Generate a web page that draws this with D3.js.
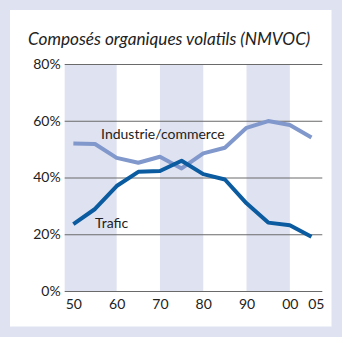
<!DOCTYPE html>
<html><head><meta charset="utf-8">
<script src="https://cdn.jsdelivr.net/npm/d3@7"></script>
<style>
html,body{margin:0;padding:0;background:#dfe2f0;}
svg{display:block;}
text{font-family:"Lato","DejaVu Sans",sans-serif;fill:#222;}
</style></head>
<body>
<script>
const years = [1950,1955,1960,1965,1970,1975,1980,1985,1990,1995,2000,2005];
const industrie = [52.0,51.8,46.9,45.2,47.3,43.2,48.5,50.5,57.5,59.9,58.5,54.1];
const trafic = [23.6,28.9,37.0,42.0,42.3,45.9,41.2,39.3,30.9,24.1,23.2,19.1];
const yTicks = [0,20,40,60,80];
const xTickLabels = [{y:1950,t:"50"},{y:1960,t:"60"},{y:1970,t:"70"},{y:1980,t:"80"},{y:1990,t:"90"},{y:2000,t:"00"},{y:2006,t:"05"}];
const bands = [[1948,1960],[1970,1980],[1990,2000]];
const title = "Composés organiques volatils (NMVOC)";

const W=342,H=337;
const svg=d3.select("body").append("svg").attr("width",W).attr("height",H);
svg.append("rect").attr("x",0).attr("y",0).attr("width",W).attr("height",H).attr("fill","#dfe2f0");
svg.append("rect").attr("x",10).attr("y",10).attr("width",321.5).attr("height",316.5).attr("fill","#fff");

const x=d3.scaleLinear().domain([1948,2007.5]).range([64.7,322.3]);
const y=d3.scaleLinear().domain([0,80]).range([291,64]);

svg.selectAll(".band").data(bands).enter().append("rect")
  .attr("x",d=>x(d[0])).attr("width",d=>x(d[1])-x(d[0]))
  .attr("y",y(80)).attr("height",y(0)-y(80)+0.5).attr("fill","#dfe2f0");

const yAxis=d3.axisLeft(y).tickValues(yTicks).tickFormat(d=>d+"%").tickSize(-(x.range()[1]-x.range()[0])).tickPadding(4);
const gy=svg.append("g").attr("transform",`translate(${x.range()[0]},0)`).call(yAxis);
gy.select(".domain").remove();
gy.selectAll(".tick line").attr("stroke","#6a6a6a").attr("stroke-width",1);
gy.selectAll(".tick text").attr("font-size",14).attr("dx",0).attr("fill","#222");

const xAxis=d3.axisBottom(x).tickValues(xTickLabels.map(d=>d.y)).tickFormat((d,i)=>xTickLabels[i].t).tickSize(0).tickPadding(8);
const gx=svg.append("g").attr("transform",`translate(0,${y(0)})`).call(xAxis);
gx.select(".domain").remove();
gx.selectAll(".tick text").attr("font-size",14).attr("fill","#222").attr("dy","0.71em");

const line=d3.line().x((d,i)=>x(years[i])).y(d=>y(d));
svg.append("path").datum(industrie).attr("d",line).attr("fill","none").attr("stroke","#8198cc").attr("stroke-width",4).attr("stroke-linejoin","round");
svg.append("path").datum(trafic).attr("d",line).attr("fill","none").attr("stroke","#0a5b9f").attr("stroke-width",4).attr("stroke-linejoin","round");

svg.append("text").attr("x",x(1956.4)).attr("y",y(53.7)).attr("font-size",14).text("Industrie/commerce");
svg.append("text").attr("x",x(1955)).attr("y",y(22.2)).attr("font-size",14).text("Trafic");

svg.append("text").attr("x",28).attr("y",45).attr("font-size",17.2).attr("font-style","italic").text(title);
</script>
</body></html>
